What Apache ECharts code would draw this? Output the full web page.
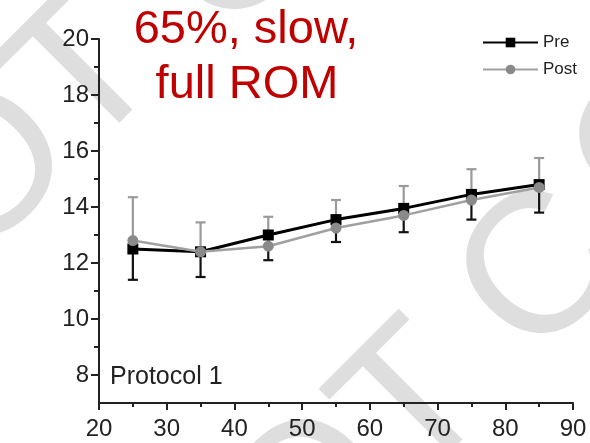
<!DOCTYPE html>
<html>
<head>
<meta charset="utf-8">
<script src="https://cdn.jsdelivr.net/npm/echarts@6/dist/echarts.min.js"></script>
<style>
html,body{margin:0;padding:0;background:#fff;}
#chart{width:590px;height:443px;}
</style>
</head>
<body>
<div id="chart"></div>
<script>
// ---- data ----
const xValues = [25, 35, 45, 55, 65, 75, 85];
const preMean = [12.5, 12.4, 13.0, 13.55, 13.95, 14.45, 14.8];
const postMean = [12.8, 12.4, 12.6, 13.25, 13.7, 14.25, 14.7];
const preSD = [1.1, 0.9, 0.9, 0.8, 0.85, 0.9, 1.0];
const postSD = [1.55, 1.05, 1.05, 1.0, 1.05, 1.1, 1.05];
const yTickLabels = [8, 10, 12, 14, 16, 18, 20];
const yMinorTicks = [9, 11, 13, 15, 17, 19];
const seriesNames = ['Pre', 'Post'];
const titleLines = ['65%, slow,', 'full ROM'];
const panelLabel = 'Protocol 1';

const FONT = '"Liberation Sans", Arial, Helvetica, sans-serif';
const chart = echarts.init(document.getElementById('chart'), null, {renderer: 'canvas'});

function errBar(capAtHigh, color) {
  return function (params, api) {
    const x = api.value(0);
    const lo = api.coord([x, api.value(1)]);
    const hi = api.coord([x, api.value(2)]);
    const capP = capAtHigh ? hi : lo;
    const st = {stroke: color, lineWidth: 2.2};
    return {
      type: 'group',
      children: [
        {type: 'line', shape: {x1: lo[0], y1: lo[1], x2: hi[0], y2: hi[1]}, style: st},
        {type: 'line', shape: {x1: capP[0] - 5, y1: capP[1], x2: capP[0] + 5, y2: capP[1]}, style: st}
      ]
    };
  };
}

const preBars = xValues.map((x, i) => [x, preMean[i] - preSD[i], preMean[i]]);
const postBars = xValues.map((x, i) => [x, postMean[i], postMean[i] + postSD[i]]);

function wmText(t, x, y) {
  return {type: 'text', x: x, y: y, rotation: Math.PI / 4, z: -10, silent: true,
    style: {text: t, fontSize: 200, fontFamily: FONT, fill: '#dedede', align: 'center', verticalAlign: 'middle'}};
}

const option = {
  animation: false,
  backgroundColor: '#fff',
  grid: {left: 99, right: 17, top: 39, bottom: 40, containLabel: false},
  legend: {
    data: seriesNames,
    orient: 'vertical',
    left: 477, top: 29,
    itemWidth: 55, itemHeight: 12, itemGap: 10,
    textStyle: {fontSize: 17, color: '#222', fontFamily: FONT}
  },
  graphic: [
    wmText('O', -10, 173), wmText('T', 87, 77), wmText('C', 237, -49),
    wmText('O', 315, 501), wmText('T', 417, 407), wmText('C', 544, 275), wmText('C', 657, 150),
    {type: 'text', x: 246, y: 30, z: 10, style: {text: titleLines[0], fontSize: 47, fontFamily: FONT, fill: '#c00000', align: 'center', verticalAlign: 'middle'}},
    {type: 'text', x: 247, y: 85, z: 10, style: {text: titleLines[1], fontSize: 47, fontFamily: FONT, fill: '#c00000', align: 'center', verticalAlign: 'middle'}},
    {type: 'text', x: 110, y: 377, z: 10, style: {text: panelLabel, fontSize: 25, fontFamily: FONT, fill: '#222', align: 'left', verticalAlign: 'middle'}}
  ],
  xAxis: {
    type: 'value', min: 20, max: 90, interval: 10,
    axisLine: {show: true, lineStyle: {color: '#222', width: 2}},
    axisTick: {show: true, length: 7, lineStyle: {color: '#222', width: 2}},
    minorTick: {show: true, splitNumber: 2, length: 4, lineStyle: {color: '#222', width: 2}},
    axisLabel: {fontSize: 24, color: '#222', fontFamily: FONT, margin: 14},
    splitLine: {show: false}
  },
  yAxis: [
    {
      type: 'value', min: 7, max: 20, position: 'left',
      axisLine: {show: true, lineStyle: {color: '#222', width: 2}},
      axisTick: {show: true, length: 8, customValues: yTickLabels, lineStyle: {color: '#222', width: 2}},
      axisLabel: {customValues: yTickLabels, fontSize: 24, color: '#222', fontFamily: FONT, margin: 10},
      splitLine: {show: false}
    },
    {
      type: 'value', min: 7, max: 20, position: 'left',
      axisLine: {show: false},
      axisTick: {show: true, length: 5, customValues: yMinorTicks, lineStyle: {color: '#222', width: 2}},
      axisLabel: {show: false},
      splitLine: {show: false}
    }
  ],
  series: [
    {type: 'custom', name: 'preErr', yAxisIndex: 0, renderItem: errBar(false, '#111'), data: preBars, z: 1, silent: true},
    {type: 'custom', name: 'postErr', yAxisIndex: 0, renderItem: errBar(true, '#9a9a9a'), data: postBars, z: 1, silent: true},
    {type: 'line', name: seriesNames[0], data: xValues.map((x, i) => [x, preMean[i]]),
      symbol: 'rect', symbolSize: 11, itemStyle: {color: '#000'}, lineStyle: {color: '#000', width: 3}, z: 3},
    {type: 'line', name: seriesNames[1], data: xValues.map((x, i) => [x, postMean[i]]),
      symbol: 'circle', symbolSize: 11, itemStyle: {color: '#8a8a8a'}, lineStyle: {color: '#a0a0a0', width: 2.5}, z: 4}
  ]
};
chart.setOption(option);
</script>
</body>
</html>
